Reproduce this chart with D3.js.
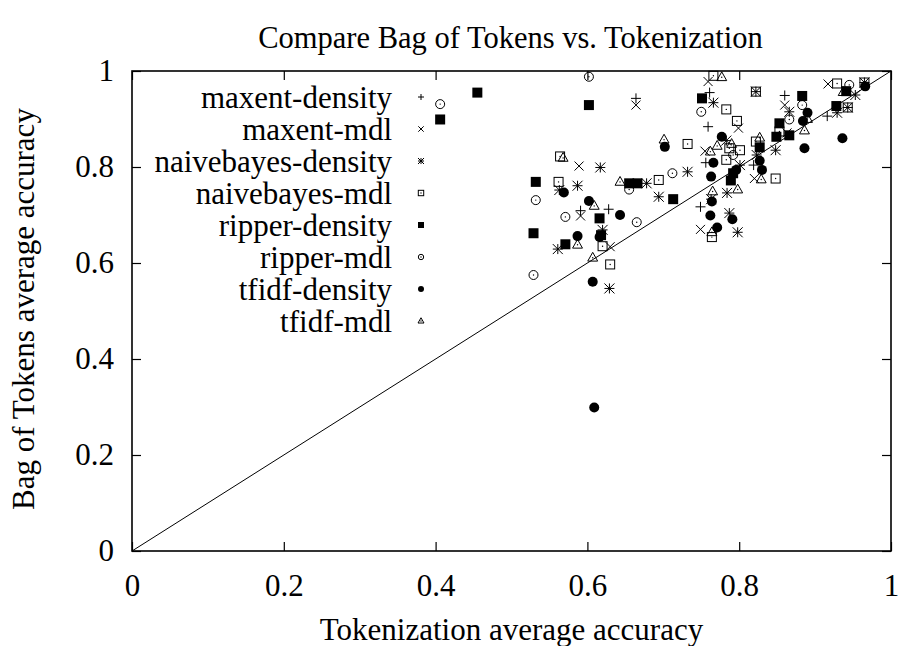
<!DOCTYPE html>
<html>
<head>
<meta charset="utf-8">
<script src="https://cdn.jsdelivr.net/npm/d3@7"></script>
<style>
  html, body { margin: 0; padding: 0; background: #fff; }
  svg { display: block; }
  text { font-family: "Liberation Serif", "Times New Roman", serif; fill: #000; }
</style>
</head>
<body>
<div id="chart"></div>
<script>
// ---- Data (x = Tokenization average accuracy, y = Bag of Tokens average accuracy) ----
const seriesNames = ["maxent-density", "maxent-mdl", "naivebayes-density", "naivebayes-mdl",
                     "ripper-density", "ripper-mdl", "tfidf-density", "tfidf-mdl"];
const xTicks = [0, 0.2, 0.4, 0.6, 0.8, 1];
const yTicks = [0, 0.2, 0.4, 0.6, 0.8, 1];

const maxentDensity = [
  [0.664,0.943],[0.628,0.712],[0.591,0.709],[0.761,0.955],[0.759,0.884],[0.860,0.949],
  [0.916,0.906],[0.819,0.804],[0.756,0.809],[0.749,0.717]
];
const maxentMdl = [
  [0.664,0.929],[0.589,0.802],[0.591,0.698],[0.630,0.634],[0.759,0.978],[0.799,0.881],
  [0.860,0.929],[0.863,0.871],[0.917,0.973],[0.755,0.833],[0.820,0.776],[0.749,0.670]
];
const naivebayesDensity = [
  [0.617,0.799],[0.563,0.752],[0.587,0.761],[0.678,0.766],[0.620,0.669],[0.561,0.629],
  [0.629,0.547],[0.732,0.790],[0.694,0.738],[0.766,0.934],[0.822,0.957],[0.866,0.915],
  [0.953,0.950],[0.929,0.913],[0.943,0.924],[0.965,0.976],[0.783,0.855],[0.848,0.835],
  [0.823,0.825],[0.801,0.804],[0.784,0.746],[0.787,0.704],[0.798,0.664],[0.763,0.733]
];
const naivebayesMdl = [
  [0.564,0.822],[0.562,0.769],[0.620,0.635],[0.630,0.597],[0.732,0.848],[0.694,0.773],
  [0.766,0.990],[0.783,0.920],[0.797,0.896],[0.822,0.957],[0.853,0.874],[0.929,0.974],
  [0.965,0.976],[0.943,0.924],[0.787,0.839],[0.801,0.835],[0.822,0.853],[0.848,0.776],
  [0.783,0.815],[0.764,0.654]
];
const ripperDensity = [
  [0.455,0.955],[0.602,0.929],[0.406,0.899],[0.532,0.769],[0.655,0.766],[0.666,0.766],
  [0.616,0.693],[0.529,0.662],[0.618,0.658],[0.571,0.639],[0.713,0.733],[0.751,0.943],
  [0.883,0.948],[0.853,0.891],[0.849,0.863],[0.866,0.866],[0.941,0.958],[0.928,0.927],
  [0.827,0.841],[0.792,0.787],[0.789,0.772]
];
const ripperMdl = [
  [0.602,0.988],[0.406,0.931],[0.532,0.731],[0.571,0.696],[0.655,0.753],[0.665,0.685],
  [0.529,0.575],[0.712,0.787],[0.750,0.915],[0.883,0.929],[0.866,0.899],[0.792,0.825],
  [0.945,0.971]
];
const tfidfDensity = [
  [0.569,0.747],[0.602,0.729],[0.643,0.700],[0.587,0.656],[0.616,0.654],[0.607,0.561],
  [0.609,0.299],[0.702,0.842],[0.890,0.913],[0.884,0.896],[0.936,0.860],[0.886,0.839],
  [0.966,0.968],[0.777,0.863],[0.827,0.813],[0.830,0.794],[0.766,0.809],[0.796,0.794],
  [0.763,0.780],[0.764,0.728],[0.762,0.699],[0.791,0.691],[0.771,0.674]
];
const tfidfMdl = [
  [0.568,0.819],[0.643,0.769],[0.609,0.719],[0.587,0.638],[0.607,0.611],[0.701,0.857],
  [0.777,0.987],[0.937,0.956],[0.890,0.900],[0.886,0.876],[0.790,0.848],[0.771,0.844],
  [0.762,0.832],[0.827,0.861],[0.829,0.774],[0.765,0.749],[0.798,0.753],[0.764,0.664]
];

const seriesData = [maxentDensity, maxentMdl, naivebayesDensity, naivebayesMdl,
                    ripperDensity, ripperMdl, tfidfDensity, tfidfMdl];
const seriesShapes = ["plus", "cross", "star", "box", "fbox", "circle", "fcircle", "triangle"];

// ---- Layout ----
const W = 899, H = 646;
const margin = { left: 132, top: 71, right: 8, bottom: 95 };
const iw = W - margin.left - margin.right;   // 759
const ih = H - margin.top - margin.bottom;   // 480
const FS = 31;

const svg = d3.select("#chart").append("svg").attr("width", W).attr("height", H);
const g = svg.append("g").attr("transform", `translate(${margin.left},${margin.top})`);

const x = d3.scaleLinear().domain([0, 1]).range([0, iw]);
const y = d3.scaleLinear().domain([0, 1]).range([ih, 0]);

// Title
svg.append("text").attr("x", margin.left + iw / 2 - 1).attr("y", 48)
  .attr("text-anchor", "middle").style("font-size", "30.5px")
  .text("Compare Bag of Tokens vs. Tokenization");

// Axes (ticks inside, mirrored)
const tickLen = 9;
const fmt = d => (d === 0 || d === 1) ? d3.format("d")(d) : d3.format(".1f")(d);

const xb = g.append("g").attr("transform", `translate(0,${ih})`)
  .call(d3.axisBottom(x).tickValues(xTicks).tickSize(-tickLen).tickPadding(tickLen + 14).tickFormat(fmt));
const xt = g.append("g").call(d3.axisTop(x).tickValues(xTicks).tickSize(-tickLen).tickFormat(""));
const yl = g.append("g")
  .call(d3.axisLeft(y).tickValues(yTicks).tickSize(-tickLen).tickPadding(tickLen + 9).tickFormat(fmt));
const yr = g.append("g").attr("transform", `translate(${iw},0)`)
  .call(d3.axisRight(y).tickValues(yTicks).tickSize(-tickLen).tickFormat(""));
[xb, xt, yl, yr].forEach(a => {
  a.select(".domain").remove();
  a.selectAll(".tick line").attr("stroke", "#000").attr("stroke-width", 1.2);
  a.selectAll("text").style("font-size", FS + "px").style("font-family", "Liberation Serif, serif").attr("fill", "#000");
});
xb.selectAll("text").attr("dy", "0.71em");

// Border
g.append("rect").attr("x", 0).attr("y", 0).attr("width", iw).attr("height", ih)
  .attr("fill", "none").attr("stroke", "#000").attr("stroke-width", 1.6);

// Diagonal y = x
g.append("line").attr("x1", x(0)).attr("y1", y(0)).attr("x2", x(1)).attr("y2", y(1))
  .attr("stroke", "#000").attr("stroke-width", 1);

// Axis labels
svg.append("text").attr("x", margin.left + iw / 2).attr("y", 640)
  .attr("text-anchor", "middle").style("font-size", FS + "px")
  .text("Tokenization average accuracy");
svg.append("text").attr("transform", `translate(34,${margin.top + ih / 2 - 2}) rotate(-90)`)
  .attr("text-anchor", "middle").style("font-size", FS + "px")
  .text("Bag of Tokens average accuracy");

// Symbol drawing
function drawSymbol(sel, shape, s) {
  const stroke = "#000", sw = 1;
  if (shape === "plus") {
    sel.append("path").attr("d", `M${-s},0H${s}M0,${-s}V${s}`).attr("stroke", stroke).attr("stroke-width", sw).attr("fill", "none");
  } else if (shape === "cross") {
    sel.append("path").attr("d", `M${-s},${-s}L${s},${s}M${-s},${s}L${s},${-s}`).attr("stroke", stroke).attr("stroke-width", sw).attr("fill", "none");
  } else if (shape === "star") {
    sel.append("path").attr("d", `M${-s},0H${s}M0,${-s}V${s}M${-s},${-s}L${s},${s}M${-s},${s}L${s},${-s}`).attr("stroke", stroke).attr("stroke-width", sw).attr("fill", "none");
  } else if (shape === "box") {
    sel.append("rect").attr("x", -s).attr("y", -s).attr("width", 2 * s).attr("height", 2 * s).attr("stroke", stroke).attr("stroke-width", sw).attr("fill", "none");
    sel.append("circle").attr("r", 0.7).attr("fill", stroke);
  } else if (shape === "fbox") {
    sel.append("rect").attr("x", -s).attr("y", -s).attr("width", 2 * s).attr("height", 2 * s).attr("fill", stroke);
  } else if (shape === "circle") {
    sel.append("circle").attr("r", s).attr("stroke", stroke).attr("stroke-width", sw).attr("fill", "none");
    sel.append("circle").attr("r", 0.7).attr("fill", stroke);
  } else if (shape === "fcircle") {
    sel.append("circle").attr("r", s).attr("fill", stroke);
  } else if (shape === "triangle") {
    sel.append("path").attr("d", `M0,${-1.2 * s}L${1.1 * s},${0.75 * s}L${-1.1 * s},${0.75 * s}Z`).attr("stroke", stroke).attr("stroke-width", sw).attr("fill", "none");
    sel.append("circle").attr("r", 0.7).attr("fill", stroke);
  }
}

const plotSize = { plus: 5, cross: 4.5, star: 5, box: 4.5, fbox: 5, circle: 4.5, fcircle: 5, triangle: 4.5 };

seriesData.forEach((data, i) => {
  const sg = g.append("g").attr("class", "series-" + i);
  sg.selectAll("g.pt").data(data).enter().append("g").attr("class", "pt")
    .attr("transform", d => `translate(${x(d[0])},${y(d[1])})`)
    .each(function () { drawSymbol(d3.select(this), seriesShapes[i], plotSize[seriesShapes[i]]); });
});

// Legend
const legendTextX = 392, legendSymX = 421, legendY0 = 97, legendDy = 32;
const lg = svg.append("g");
seriesNames.forEach((name, i) => {
  const yy = legendY0 + i * legendDy;
  lg.append("text").attr("x", legendTextX).attr("y", yy).attr("dy", "0.35em")
    .attr("text-anchor", "end").style("font-size", FS + "px").text(name);
  const sg = lg.append("g").attr("transform", `translate(${legendSymX},${yy})`);
  drawSymbol(sg, seriesShapes[i], plotSize[seriesShapes[i]] * 0.6);
});
</script>
</body>
</html>
